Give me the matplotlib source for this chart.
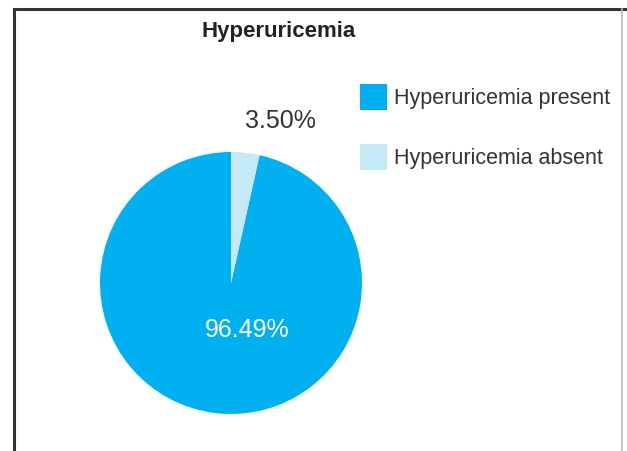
import matplotlib
matplotlib.use("Agg")
import matplotlib.pyplot as plt
from matplotlib.lines import Line2D
from matplotlib.patches import Patch

# Data
labels = ["Hyperuricemia present", "Hyperuricemia absent"]
values = [96.49, 3.50]
colors = ["#00B0F0", "#C6E9F8"]
title = "Hyperuricemia"

plt.rcParams["font.family"] = ["Liberation Sans", "DejaVu Sans"]

W, H = 627, 451
fig = plt.figure(figsize=(W / 100, H / 100), dpi=100)

# frame around the chart (bottom is cut off in the original)
fig.add_artist(Line2D([14 / W, 14 / W], [0, 1 - 9 / H], color="#333333", lw=2.2))
fig.add_artist(Line2D([14 / W, 1], [1 - 9 / H, 1 - 9 / H], color="#333333", lw=2.2))
fig.add_artist(Line2D([622 / W, 622 / W], [0, 1 - 9 / H], color="#bbbbbb", lw=1.2))

# pie axes, centre ~(231, 283) px, radius ~131 px
cx, cy, r = 231, 283, 131
ax = fig.add_axes([(cx - r) / W, (H - cy - r) / H, 2 * r / W, 2 * r / H])
ax.pie(values, colors=colors, startangle=90, counterclock=True,
       wedgeprops=dict(linewidth=0))
ax.set_xlim(-1, 1)
ax.set_ylim(-1, 1)
ax.set_aspect("equal")
ax.axis("off")

ax.text(0.12, -0.36, f"{values[0]:.2f}%", color="white", fontsize=18,
        ha="center", va="center")
ax.text(0.38, 1.24, f"{values[1]:.2f}%", color="#333333", fontsize=18,
        ha="center", va="center")

fig.text(279 / W, 1 - 32 / H, title, fontsize=16, fontweight="bold",
         color="#222222", ha="center", va="center")

handles = [Patch(facecolor=c, edgecolor="none") for c in colors]
fig.legend(handles, labels, loc="upper left", bbox_to_anchor=(360 / W, 1 - 84 / H),
           frameon=False, fontsize=15.5, handlelength=1.25, handleheight=1.5,
           handletextpad=0.35, labelspacing=1.55, borderpad=0, borderaxespad=0,
           labelcolor="#333333")

fig.savefig("out.png", dpi=100, facecolor="white")
